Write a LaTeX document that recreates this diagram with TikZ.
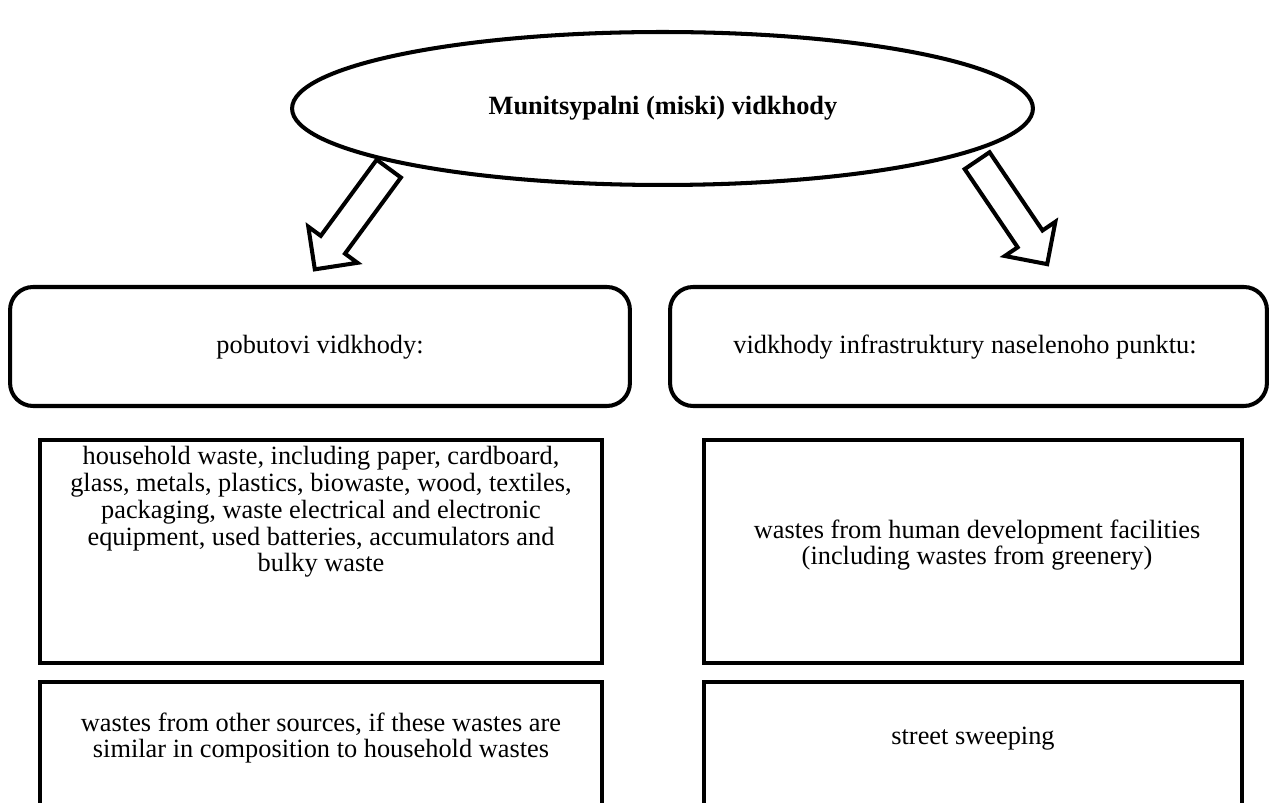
\documentclass[tikz,border=0pt]{standalone}
\usepackage{fontspec}
\setmainfont{Liberation Serif}
\usetikzlibrary{shapes.geometric,shapes.arrows}

\tikzset{
  frame/.style={draw, line width=2.3pt, inner sep=0pt},
  roundbox/.style={frame, rectangle, rounded corners=0.46cm, minimum height=2.38cm},
  plainbox/.style={frame, rectangle, line width=2.6pt},
  hollowarrow/.style={draw, line width=2.3pt, single arrow, inner xsep=0pt, inner ysep=0.26cm,
    single arrow head extend=0.31cm, minimum height=2.5cm},
  boxtext/.style={align=center, font=\fontsize{15}{15.2}\selectfont}
}

\begin{document}
\begin{tikzpicture}[x=0.02cm, y=-0.02cm]
    \useasboundingbox (0, 0) rectangle (1272, 803);
    \clip (0, 0) rectangle (1272, 803);
    % top ellipse
    \node[frame, ellipse, minimum width=14.82cm, minimum height=3.06cm] (title) at (662.5, 108.5) {};
    \node[boxtext, font=\fontsize{15}{15.2}\selectfont\bfseries] (titletext) at (663, 108) {Munitsypalni (miski) vidkhody};
    % arrows
    \node[hollowarrow, rotate=233.7, anchor=tail] (arrowL) at (390, 167) {};
    \node[hollowarrow, rotate=-55.9, anchor=tail] (arrowR) at (976, 159) {};
    % category boxes
    \node[roundbox, minimum width=12.4cm] (pobut) at (320, 346.5) {};
    \node[roundbox, minimum width=11.94cm] (infra) at (968.5, 346.5) {};
    \node[boxtext] (pobuttext) at (320, 347) {pobutovi vidkhody:};
    \node[boxtext] (infratext) at (965, 347) {vidkhody infrastruktury naselenoho punktu:};
    % left column
    \node[plainbox, minimum width=11.24cm, minimum height=4.46cm] (pobutA) at (321, 551.5) {};
    \node[plainbox, minimum width=11.24cm, minimum height=4.8cm] (pobutB) at (321, 802) {};
    \node[boxtext] (pobutAtext) at (321, 512) {household waste, including paper, cardboard,\\
      glass, metals, plastics, biowaste, wood, textiles,\\
      packaging, waste electrical and electronic\\
      equipment, used batteries, accumulators and\\
      bulky waste};
    \node[boxtext] (pobutBtext) at (321, 738) {wastes from other sources, if these wastes are\\
      similar in composition to household wastes};
    % right column
    \node[plainbox, minimum width=10.76cm, minimum height=4.46cm] (infraA) at (973, 551.5) {};
    \node[plainbox, minimum width=10.76cm, minimum height=4.8cm] (infraB) at (973, 802) {};
    \node[boxtext] (infraAtext) at (977, 545) {wastes from human development facilities\\
      (including wastes from greenery)};
    \node[boxtext] (infraBtext) at (973, 739) {street sweeping};
\end{tikzpicture}
\end{document}
